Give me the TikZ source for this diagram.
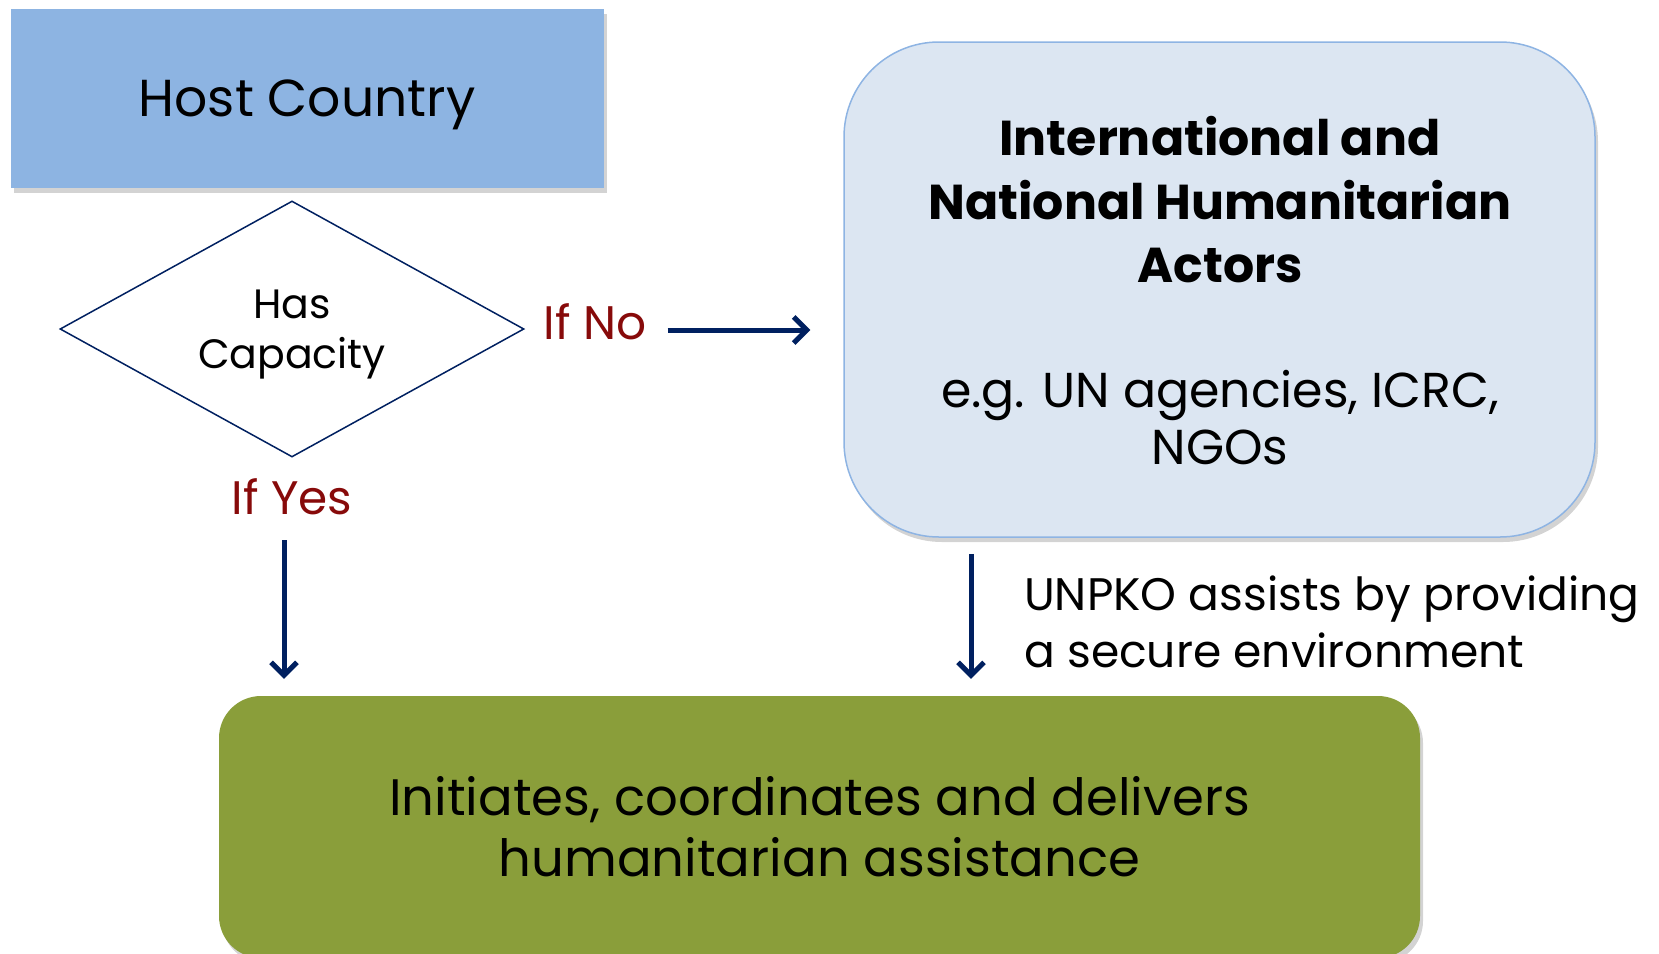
\documentclass[tikz,border=0pt]{standalone}
\usepackage{fontspec}
\setmainfont{Poppins}
\usetikzlibrary{arrows.meta,shapes.geometric,shadows}
\definecolor{hostblue}{RGB}{141,180,226}
\definecolor{actfill}{RGB}{220,230,242}
\definecolor{actline}{RGB}{142,180,227}
\definecolor{olive}{RGB}{138,158,58}
\definecolor{navy}{RGB}{0,32,96}
\definecolor{darkred}{RGB}{135,10,10}
\tikzset{
  shade/.style={drop shadow={opacity=.35,shadow xshift=3pt,shadow yshift=-5pt}},
  arr/.style={navy,line width=5pt,-{Straight Barb[length=13pt,width=26pt]}},
  lbl/.style={darkred,inner sep=0pt,font=\fontsize{47}{50}\selectfont}
}
\begin{document}
\begin{tikzpicture}[x=1pt,y=-1pt]
\useasboundingbox (0,0) rectangle (1659,953);
\node[shade,fill=hostblue,minimum width=593pt,minimum height=179pt,text depth=0pt,font=\fontsize{52}{60}\selectfont] (host) at (307,98) {Host Country};
\node[diamond,draw=navy,line width=1.5pt,aspect=1.8,inner sep=0pt,minimum width=464pt,minimum height=256pt] (cap) at (292,329) {};
\node[align=center,inner sep=0pt,font=\fontsize{41}{50}\selectfont] (captext) at ([yshift=-6pt]cap.center) {Has\\Capacity};
\node[lbl] (ifno) at (595,322) {If No};
\node[lbl] (ifyes) at (292,497) {If Yes};
\node[shade,fill=actfill,draw=actline,line width=1.5pt,rounded corners=95pt,minimum width=751pt,minimum height=495pt] (actors) at (1219.5,289.5) {};
\node[align=center,inner sep=0pt,font=\fontsize{49}{63.5}\selectfont\bfseries] (actname) at (1220,200) {International and\\National Humanitarian\\Actors};
\node[align=center,inner sep=0pt,font=\fontsize{49}{57}\selectfont] (actex) at (1220,418) {e.g. UN agencies, ICRC,\\NGOs};
\node[anchor=west,align=left,inner sep=0pt,font=\fontsize{45.6}{57}\selectfont] (unpko) at (1024,622) {UNPKO assists by providing\\a secure environment};
\node[shade,fill=olive,rounded corners=42pt,minimum width=1201pt,minimum height=262pt,align=center,font=\fontsize{51.3}{61}\selectfont] (deliver) at (819.5,827) {Initiates, coordinates and delivers\\humanitarian assistance};
\coordinate (yesx) at (284,0);
\coordinate (unx) at (971,0);
\draw[arr,shorten <=21pt,shorten >=33pt] ([yshift=-8pt]ifno.east) -- ([yshift=-8pt]ifno.east -| actors.west);
\draw[arr,shorten <=25pt,shorten >=17pt] (ifyes.south -| yesx) -- (deliver.north -| yesx);
\draw[arr,shorten <=16pt,shorten >=17pt] (actors.south -| unx) -- (deliver.north -| unx);
\end{tikzpicture}
\end{document}
